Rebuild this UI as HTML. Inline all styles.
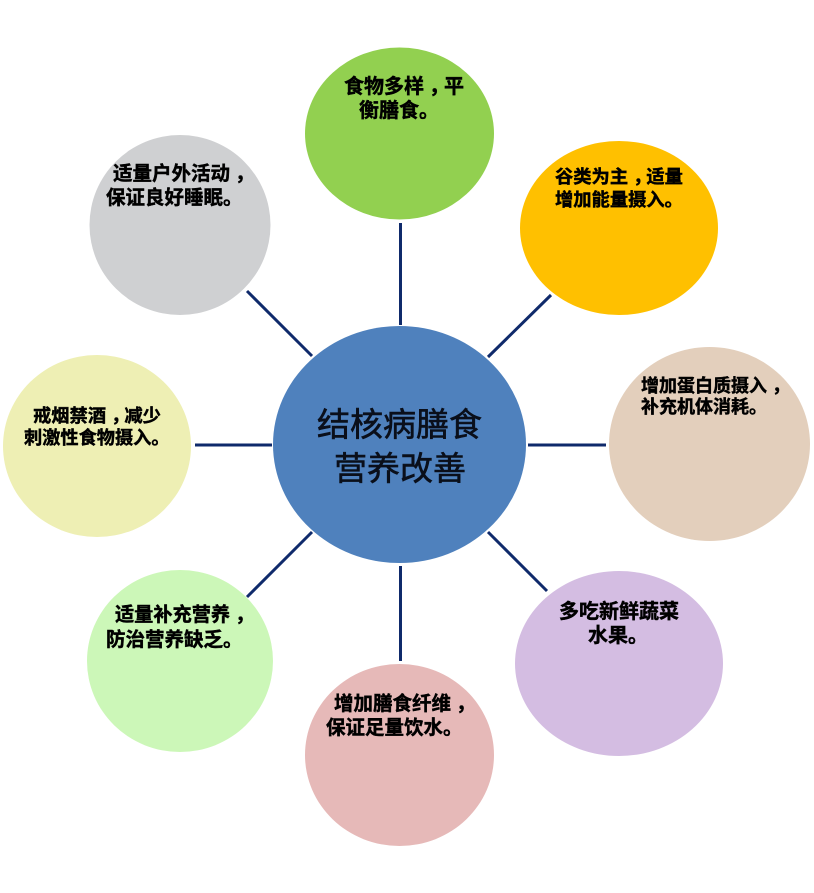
<!DOCTYPE html>
<html lang="zh">
<head>
<meta charset="utf-8">
<style>
html,body{margin:0;padding:0;background:#fff;width:814px;height:893px;overflow:hidden}
svg{display:block}
text{font-family:"Liberation Sans","Noto Sans CJK SC",sans-serif;fill:#000}
.s{font-weight:700;stroke:#000;stroke-width:.45px}
.c{font-size:33px;font-weight:400;fill:#0a0f1a;stroke:#0a0f1a;stroke-width:.6px}
</style>
</head>
<body>
<svg width="814" height="893" viewBox="0 0 814 893" xmlns="http://www.w3.org/2000/svg">
<g stroke="#0f2a6b" stroke-width="3" fill="none">
<line x1="400.500" y1="223" x2="400.500" y2="325"/>
<line x1="551" y1="295" x2="488" y2="357"/>
<line x1="528" y1="445" x2="606" y2="445"/>
<line x1="488" y1="532" x2="547" y2="591"/>
<line x1="400.500" y1="566" x2="400.500" y2="661"/>
<line x1="312" y1="532" x2="247" y2="597"/>
<line x1="195" y1="445" x2="272" y2="445"/>
<line x1="247" y1="291" x2="312" y2="356"/>
</g>
<ellipse cx="399.500" cy="133.500" rx="94.500" ry="86" fill="#92d050"/>
<ellipse cx="619" cy="228" rx="99" ry="87" fill="#ffc000"/>
<ellipse cx="709.500" cy="444" rx="100.500" ry="97" fill="#e3cfbc"/>
<ellipse cx="619" cy="663.500" rx="104" ry="92.500" fill="#d4bde2"/>
<ellipse cx="399.500" cy="755" rx="94.500" ry="91" fill="#e6b9b8"/>
<ellipse cx="180" cy="661" rx="93" ry="91" fill="#ccf7b8"/>
<ellipse cx="97" cy="446" rx="94" ry="91" fill="#eeefb4"/>
<ellipse cx="180" cy="225" rx="90.500" ry="90" fill="#cfd0d2"/>
<ellipse cx="399.500" cy="444.500" rx="126.500" ry="118.500" fill="#4f81bd"/>

<text class="s" font-size="20" x="344" y="93">食物多样<tspan dx="5">，</tspan><tspan dx="-5">平</tspan></text>
<text class="s" font-size="20" x="359" y="117">衡膳食。</text>
<text class="s" font-size="18.300" x="555" y="183">谷类为主<tspan dx="5">，</tspan><tspan dx="-5">适量</tspan></text>
<text class="s" font-size="18.300" x="555" y="206">增加能量摄入。</text>
<text class="s" font-size="18" x="641" y="392">增加蛋白质摄入<tspan dx="5">，</tspan></text>
<text class="s" font-size="18" x="641" y="413">补充机体消耗。</text>
<text class="s" font-size="20" x="559" y="618">多吃新鲜蔬菜</text>
<text class="s" font-size="20" x="588" y="642">水果。</text>
<text class="s" font-size="19.500" x="334" y="710">增加膳食纤维<tspan dx="5">，</tspan></text>
<text class="s" font-size="19.500" x="326" y="734">保证足量饮水。</text>
<text class="s" font-size="19.200" x="115" y="621">适量补充营养<tspan dx="5">，</tspan></text>
<text class="s" font-size="19.500" x="106" y="646">防治营养缺乏。</text>
<text class="s" font-size="18.300" x="33" y="422">戒烟禁酒<tspan dx="5">，</tspan><tspan dx="-5">减少</tspan></text>
<text class="s" font-size="18.200" x="24" y="444">刺激性食物摄入。</text>
<text class="s" font-size="19.500" x="113" y="180">适量户外活动<tspan dx="5">，</tspan></text>
<text class="s" font-size="19.500" x="106" y="204">保证良好睡眠。</text>

<text class="c" x="317" y="436">结核病膳食</text>
<text class="c" x="334" y="480">营养改善</text>
</svg>
</body>
</html>
